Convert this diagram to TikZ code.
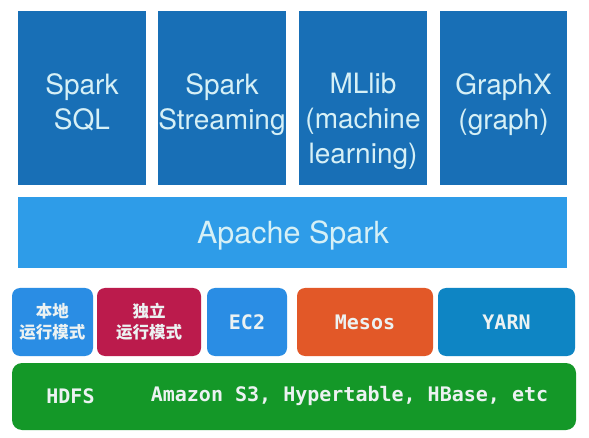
\documentclass[tikz,border=0pt]{standalone}
\usepackage{fontspec}
\setmainfont{TeX Gyre Heros}
\newfontfamily\monofont{DejaVu Sans Mono}
\newfontfamily\cjk{Noto Sans CJK SC}
\definecolor{topblue}{RGB}{24,111,182}
\definecolor{sparkblue}{RGB}{46,156,232}
\definecolor{toptext}{RGB}{214,240,246}
\definecolor{localblue}{RGB}{42,141,228}
\definecolor{crimson}{RGB}{187,27,76}
\definecolor{mesosorange}{RGB}{226,88,40}
\definecolor{yarnblue}{RGB}{14,133,196}
\definecolor{hdfsgreen}{RGB}{20,152,40}
\definecolor{lowtext}{RGB}{236,242,242}
\tikzset{
  box/.style={inner sep=0pt, outer sep=0pt, draw=none},
  topbox/.style={box, fill=topblue, minimum height=174pt},
  toplabel/.style={inner sep=0pt, anchor=north, align=center, text=toptext,
    font=\fontsize{28}{35}\selectfont},
  lowbox/.style={box, rounded corners=8pt, minimum height=68pt},
  lowlabel/.style={inner sep=0pt, text=lowtext, font=\monofont\bfseries\fontsize{20}{24}\selectfont},
  cjklabel/.style={inner sep=0pt, align=center, text=lowtext, font=\cjk\bfseries\fontsize{16.5}{21}\selectfont},
}
\begin{document}
\begin{tikzpicture}[x=1pt,y=-1pt]
\useasboundingbox[fill=white] (0,0) rectangle (589,438);
% top modules
\node[topbox, minimum width=128pt] (sql) at (82,98) {};
\node[topbox, minimum width=128pt] (stream) at (222,98) {};
\node[topbox, minimum width=128pt] (ml) at (363,98) {};
\node[topbox, minimum width=127pt] (graph) at (503.5,98) {};
\node[toplabel] (sqlt) at (82,73) {Spark\\SQL};
\node[toplabel] (streamt) at (222,73) {Spark\\Streaming};
\node[toplabel] (mlt) at (363,73) {MLlib\\(machine\\learning)};
\node[toplabel] (grapht) at (503.5,73) {GraphX\\(graph)};
% core
\node[box, fill=sparkblue, minimum width=549pt, minimum height=71pt] (core) at (292.5,232.5) {};
\node[inner sep=0pt, text=toptext, font=\fontsize{30.5}{36}\selectfont] (coret) at (293,235) {Apache Spark};
% cluster managers
\node[lowbox, fill=localblue, minimum width=81pt] (local) at (52.5,322) {};
\node[lowbox, fill=crimson, minimum width=104pt] (alone) at (149,322) {};
\node[lowbox, fill=localblue, minimum width=80pt] (ec2) at (247,322) {};
\node[lowbox, fill=mesosorange, minimum width=136pt] (mesos) at (365,322) {};
\node[lowbox, fill=yarnblue, minimum width=137pt] (yarn) at (506.5,322) {};
\node[cjklabel] (localt) at (local) {本地\\运行模式};
\node[cjklabel] (alonet) at (alone) {独立\\运行模式};
\node[lowlabel] (ec2t) at (ec2) {EC2};
\node[lowlabel] (mesost) at (mesos) {Mesos};
\node[lowlabel] (yarnt) at (yarn) {YARN};
% storage
\node[lowbox, rounded corners=10pt, fill=hdfsgreen, minimum width=564pt, minimum height=67pt] (store) at (294,396.5) {};
\node[lowlabel] (hdfst) at (70.5,396) {HDFS};
\node[lowlabel] (otherst) at (349.5,396) {Amazon S3, Hypertable, HBase, etc};
\end{tikzpicture}
\end{document}
